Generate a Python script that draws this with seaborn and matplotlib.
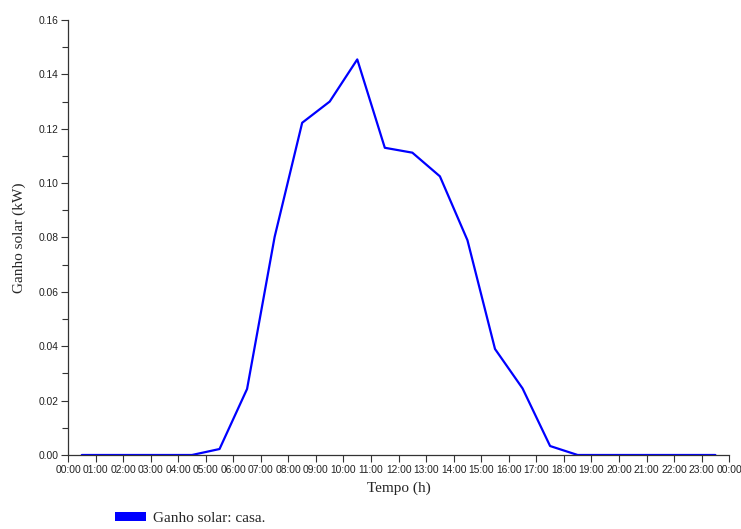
import numpy as np
import pandas as pd
import matplotlib
matplotlib.use("Agg")
import matplotlib.pyplot as plt
from matplotlib.ticker import MultipleLocator, FixedLocator
from matplotlib.patches import Patch
import seaborn as sns

# hourly solar gain, plotted at the middle of each hour
horas = [h + 0.5 for h in range(24)]
ganho = [0.0, 0.0, 0.0, 0.0, 0.0, 0.0022, 0.0243, 0.0802, 0.1222, 0.1300,
         0.1455, 0.1130, 0.1112, 0.1025, 0.0790, 0.0390, 0.0245, 0.0033,
         0.0, 0.0, 0.0, 0.0, 0.0, 0.0]
rotulos = [f"{h % 24:02d}:00" for h in range(25)]

df = pd.DataFrame({"Tempo": horas, "Ganho": ganho})

sns.set_style("ticks")
plt.rcParams["font.family"] = ["Liberation Sans", "DejaVu Sans"]

fig = plt.figure(figsize=(7.41, 5.29), dpi=100)
ax = fig.add_axes([0.0918, 0.1399, 0.8922, 0.8223])

sns.lineplot(data=df, x="Tempo", y="Ganho", color="#0000ff", linewidth=1.6, ax=ax)

ax.set_xlim(0, 24)
ax.set_ylim(0, 0.16)
ax.xaxis.set_major_locator(FixedLocator(range(25)))
ax.set_xticklabels(rotulos)
ax.yaxis.set_major_locator(MultipleLocator(0.02))
ax.yaxis.set_minor_locator(MultipleLocator(0.01))
ax.yaxis.set_major_formatter(matplotlib.ticker.FormatStrFormatter("%.2f"))
ax.tick_params(axis="both", which="major", labelsize=7.4, length=5, width=0.8,
               colors="#333333", labelcolor="#222222", pad=2)
ax.tick_params(axis="y", which="minor", length=4, width=0.8, colors="#333333")
for s in ["left", "bottom"]:
    ax.spines[s].set_color("#333333")
    ax.spines[s].set_linewidth(0.9)
sns.despine(ax=ax)

ax.set_xlabel("Tempo (h)", family="Liberation Serif", fontsize=11, labelpad=5)
ax.set_ylabel("Ganho solar (kW)", family="Liberation Serif", fontsize=11, labelpad=9)

handle = Patch(facecolor="#0000ff", edgecolor="none")
fig.legend([handle], ["Ganho solar: casa."], loc="lower left",
           bbox_to_anchor=(0.137, -0.018), frameon=False,
           prop={"family": "Liberation Serif", "size": 11},
           handlelength=2.0, handleheight=0.6, handletextpad=0.45)

fig.savefig("out.png", dpi=100)
